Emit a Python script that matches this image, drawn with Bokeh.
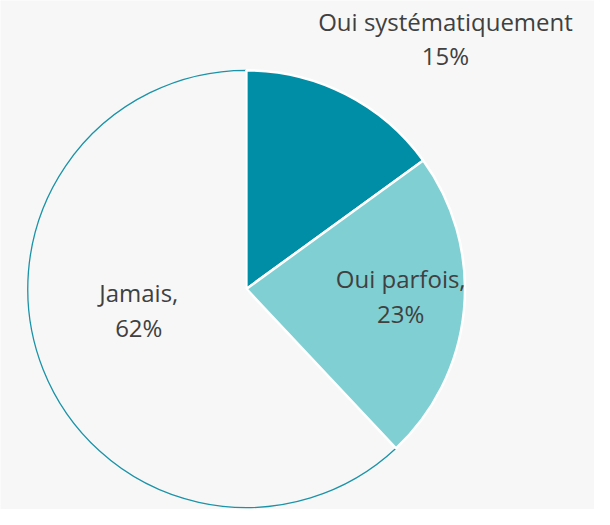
import math
from bokeh.plotting import figure
from bokeh.models import Range1d, ColumnDataSource
from bokeh.core.properties import value
from bokeh.embed import file_html
from bokeh.resources import INLINE

# Data
categories = ["Oui systématiquement", "Oui parfois", "Jamais"]
shares = [15, 23, 62]
label_line1 = ["Oui systématiquement", "Oui parfois,", "Jamais,"]
label_line2 = ["15%", "23%", "62%"]
colors = ["#008ea6", "#80cfd3", "#f7f7f7"]

BG = "#f7f7f7"
W, H = 594, 509
p = figure(width=W, height=H, output_backend="svg", toolbar_location=None,
           x_range=Range1d(0, 610), y_range=Range1d(0, 525),
           min_border=0, background_fill_color=BG, border_fill_color=BG)
p.axis.visible = False
p.grid.visible = False
p.outline_line_color = None

cx, cy, r = 252.5, 525 - 297.5, 224.5

total = sum(shares)
starts, ends = [], []
cum = 0
for s in shares:
    starts.append(math.pi / 2 - 2 * math.pi * cum / total)
    cum += s
    ends.append(math.pi / 2 - 2 * math.pi * cum / total)

# Jamais slice (outlined)
p.wedge(x=cx, y=cy, radius=r, start_angle=starts[2], end_angle=ends[2],
        direction="clock", fill_color=colors[2], line_color="#1a93a8", line_width=1.3)
# Teal slices with white border
src = ColumnDataSource(dict(start=starts[:2], end=ends[:2], color=colors[:2]))
p.wedge(x=cx, y=cy, radius=r, start_angle="start", end_angle="end", source=src,
        direction="clock", fill_color="color", line_color="white", line_width=2.5)

# Labels (positions in reference image coordinates)
lx = [457, 411, 142]
ly1 = [22, 287, 301]
ly2 = [57, 323, 337]
tsrc = ColumnDataSource(dict(
    x=lx + lx,
    y=[525 - v for v in ly1] + [525 - v for v in ly2],
    t=label_line1 + label_line2))
p.text(x="x", y="y", text="t", source=tsrc, text_align="center",
       text_baseline="middle", text_font=value("Open Sans"),
       text_font_size="24px", text_color="#404040")

html = file_html(p, INLINE)
html = html.replace("<body>", '<body style="background:#f7f7f7">', 1)
open("out.html", "w").write(html)
